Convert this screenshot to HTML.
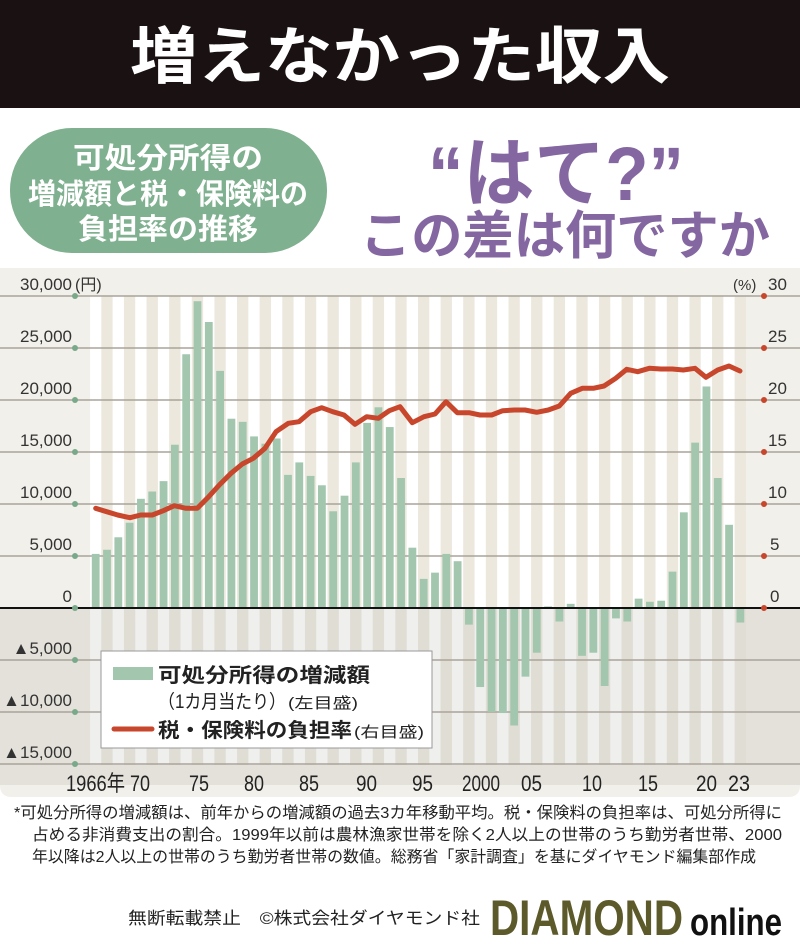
<!DOCTYPE html>
<html><head><meta charset="utf-8"><style>
html,body{margin:0;padding:0;background:#fff;}
svg{display:block;}
text{font-family:"Liberation Sans","Noto Sans CJK JP",sans-serif;}
</style></head><body>
<svg width="800" height="948" viewBox="0 0 800 948" xmlns="http://www.w3.org/2000/svg">
<rect x="0" y="0" width="800" height="948" fill="#fff"/>
<rect x="0" y="0" width="800" height="108" fill="#1a1212"/>
<text x="130" y="78" font-size="62" font-weight="bold" fill="#fff" textLength="540" lengthAdjust="spacingAndGlyphs">増えなかった収入</text>
<rect x="10" y="128" width="317" height="125" rx="62" fill="#7fb08f"/>
<g font-size="29" font-weight="bold" fill="#fff" text-anchor="middle">
<text x="168" y="168" textLength="190" lengthAdjust="spacingAndGlyphs">可処分所得の</text>
<text x="168" y="204" textLength="280" lengthAdjust="spacingAndGlyphs">増減額と税・保険料の</text>
<text x="168" y="239" textLength="180" lengthAdjust="spacingAndGlyphs">負担率の推移</text>
</g>
<text x="428" y="200" font-size="76" font-weight="bold" fill="#8467a1" textLength="256" lengthAdjust="spacingAndGlyphs">“はて?”</text>
<text x="360" y="254" font-size="52" font-weight="bold" fill="#8467a1" textLength="410" lengthAdjust="spacingAndGlyphs">この差は何ですか</text>
<!-- panel -->
<path d="M0 268 H800 V785 Q800 797 788 797 H12 Q0 797 0 785 Z" fill="#f2f0ea"/>
<rect x="0" y="609" width="800" height="176" fill="#e4e1da"/>
<g id="stripes"></g>
<g id="grid" stroke="#aaa49a" stroke-width="1.5">
<line x1="0" x2="800" y1="296" y2="296"/><line x1="0" x2="800" y1="348" y2="348"/>
<line x1="0" x2="800" y1="400" y2="400"/><line x1="0" x2="800" y1="452" y2="452"/>
<line x1="0" x2="800" y1="504" y2="504"/><line x1="0" x2="800" y1="556" y2="556"/>
<line x1="0" x2="800" y1="660" y2="660"/><line x1="0" x2="800" y1="712" y2="712"/>
<line x1="0" x2="800" y1="764" y2="764"/>
</g>
<g id="bars"></g>
<line x1="0" x2="800" y1="608" y2="608" stroke="#111" stroke-width="2"/>
<polyline fill="none" stroke="#c8462c" stroke-width="5" stroke-linejoin="round" stroke-linecap="round" points="95.7,508.3 106.7,511.7 117.7,515 130,517.7 140.7,515 152.3,515 163.3,510.7 174.3,505.7 186,508.3 197.3,508.3 208.7,496.7 219.3,485 231,473.3 242.3,464 253.3,458.3 265,448.3 276,431.7 288.3,423.3 299,421.7 310.7,411.7 321.7,407.7 332.7,411.7 344,415 355,424.3 366.7,416.7 378.3,418.3 389.3,410.7 400,406.7 412.3,422.7 424,416.7 435,414 446,401.7 457.3,412.7 469,412.7 480,415 491.7,415 502.7,410.7 514.3,410 525,410 536.7,412.3 548.3,410 559.3,406 570.7,393.3 582.3,388.3 593.3,388.3 604,386 615.7,378.3 626.7,369.3 637.7,371.7 649.3,368.3 660.7,369 672.3,369 683.3,370 695,368.3 706,377.3 717.7,370 729,366 740,371"/>
<!-- left axis -->
<g font-size="17" fill="#333" text-anchor="end">
<text x="72" y="290">30,000</text><text x="72" y="342">25,000</text><text x="72" y="394">20,000</text>
<text x="72" y="446">15,000</text><text x="72" y="498">10,000</text><text x="72" y="550">5,000</text>
<text x="72" y="602">0</text><text x="72" y="654">▲5,000</text><text x="72" y="706">▲10,000</text><text x="72" y="758">▲15,000</text>
</g>
<text x="75" y="290" font-size="16" fill="#333">(円)</text>
<g font-size="17" fill="#333">
<text x="768" y="290">30</text><text x="768" y="342">25</text><text x="768" y="394">20</text>
<text x="768" y="446">15</text><text x="768" y="498">10</text><text x="770" y="550">5</text><text x="770" y="602">0</text>
</g>
<text x="733" y="290" font-size="15" fill="#333">(%)</text>
<g fill="#7aa98a">
<circle cx="75" cy="296" r="3"/><circle cx="75" cy="348" r="3"/><circle cx="75" cy="400" r="3"/><circle cx="75" cy="452" r="3"/><circle cx="75" cy="504" r="3"/><circle cx="75" cy="556" r="3"/><circle cx="75" cy="608" r="3"/><circle cx="75" cy="660" r="3"/><circle cx="75" cy="712" r="3"/><circle cx="75" cy="764" r="3"/>
</g>
<g fill="#c8462c">
<circle cx="764" cy="296" r="3"/><circle cx="764" cy="348" r="3"/><circle cx="764" cy="400" r="3"/><circle cx="764" cy="452" r="3"/><circle cx="764" cy="504" r="3"/><circle cx="764" cy="556" r="3"/><circle cx="764" cy="608" r="3"/>
</g>
<!-- x labels -->
<g font-size="22" fill="#222">
<text x="66" y="791" textLength="59" lengthAdjust="spacingAndGlyphs">1966年</text>
<text x="130" y="791" textLength="20" lengthAdjust="spacingAndGlyphs">70</text>
<text x="189" y="791" textLength="20" lengthAdjust="spacingAndGlyphs">75</text>
<text x="244" y="791" textLength="20" lengthAdjust="spacingAndGlyphs">80</text>
<text x="299" y="791" textLength="20" lengthAdjust="spacingAndGlyphs">85</text>
<text x="356" y="791" textLength="21" lengthAdjust="spacingAndGlyphs">90</text>
<text x="412" y="791" textLength="21" lengthAdjust="spacingAndGlyphs">95</text>
<text x="462" y="791" textLength="38" lengthAdjust="spacingAndGlyphs">2000</text>
<text x="521" y="791" textLength="21" lengthAdjust="spacingAndGlyphs">05</text>
<text x="582" y="791" textLength="20" lengthAdjust="spacingAndGlyphs">10</text>
<text x="638" y="791" textLength="20" lengthAdjust="spacingAndGlyphs">15</text>
<text x="696" y="791" textLength="21" lengthAdjust="spacingAndGlyphs">20</text>
<text x="728" y="791" textLength="22" lengthAdjust="spacingAndGlyphs">23</text>
</g>
<!-- legend -->
<rect x="101" y="651" width="331" height="97" fill="#fff" stroke="#999" stroke-width="1"/>
<rect x="113" y="667" width="40" height="13" fill="#a3c7ae"/>
<text x="158" y="682" font-size="20" font-weight="bold" fill="#222" textLength="212" lengthAdjust="spacingAndGlyphs">可処分所得の増減額</text>
<text x="158" y="708" font-size="19" fill="#222" textLength="128" lengthAdjust="spacingAndGlyphs">（1カ月当たり）</text>
<text x="288" y="708" font-size="15" fill="#222" textLength="70" lengthAdjust="spacingAndGlyphs">(左目盛)</text>
<line x1="114" x2="152" y1="729" y2="729" stroke="#c8462c" stroke-width="5" stroke-linecap="round"/>
<text x="158" y="737" font-size="20" font-weight="bold" fill="#222" textLength="194" lengthAdjust="spacingAndGlyphs">税・保険料の負担率</text>
<text x="354" y="737" font-size="15" fill="#222" textLength="70" lengthAdjust="spacingAndGlyphs">(右目盛)</text>
<!-- note -->
<g font-size="16" fill="#222">
<text x="14" y="818" textLength="768" lengthAdjust="spacingAndGlyphs">*可処分所得の増減額は、前年からの増減額の過去3カ年移動平均。税・保険料の負担率は、可処分所得に</text>
<text x="32" y="840" textLength="750" lengthAdjust="spacingAndGlyphs">占める非消費支出の割合。1999年以前は農林漁家世帯を除く2人以上の世帯のうち勤労者世帯、2000</text>
<text x="32" y="862" textLength="724" lengthAdjust="spacingAndGlyphs">年以降は2人以上の世帯のうち勤労者世帯の数値。総務省「家計調査」を基にダイヤモンド編集部作成</text>
</g>
<text x="128" y="924" font-size="17" fill="#222" textLength="352" lengthAdjust="spacingAndGlyphs">無断転載禁止　©株式会社ダイヤモンド社</text>
<text x="490" y="935" font-size="50" font-weight="bold" fill="#5c5a2a" textLength="193" lengthAdjust="spacingAndGlyphs">DIAMOND</text>
<text x="690" y="935" font-size="38" font-weight="bold" fill="#111" textLength="92" lengthAdjust="spacingAndGlyphs">online</text>
<script>
(function(){
var v=[5.2,5.6,6.8,8.2,10.5,11.2,12.2,15.7,24.4,29.5,27.5,22.8,18.2,17.9,16.5,15.8,16.3,12.8,14.0,12.7,11.8,9.3,10.8,14.0,17.8,19.3,17.4,12.5,5.8,2.8,3.4,5.2,4.5,-1.6,-7.6,-10.0,-10.1,-11.3,-6.6,-4.3,0.15,-1.3,0.4,-4.6,-4.3,-7.5,-1.0,-1.3,0.9,0.6,0.7,3.5,9.2,15.9,21.3,12.5,8.0,-1.4];
var ns="http://www.w3.org/2000/svg",s=document.getElementById("stripes"),b=document.getElementById("bars");
function r(g,x,y,w,h,f){var e=document.createElementNS(ns,"rect");e.setAttribute("x",x);e.setAttribute("y",y);e.setAttribute("width",w);e.setAttribute("height",h);e.setAttribute("fill",f);g.appendChild(e);}
for(var i=0;i<58;i++){var c=95.7+11.31*i,x0=c-5.655;
r(s,x0,296,11.31,312,i%2?"#ece8de":"#ffffff");
r(s,x0,608,11.31,157,i%2?"#e0ddd5":"#efefee");
var h=v[i]*10.4;
if(h>=0)r(b,c-3.9,608-h,7.8,h,"#a3c7ae");else r(b,c-3.9,608,7.8,-h,"#a3c7ae");}
})();
</script>
</svg>
</body></html>
